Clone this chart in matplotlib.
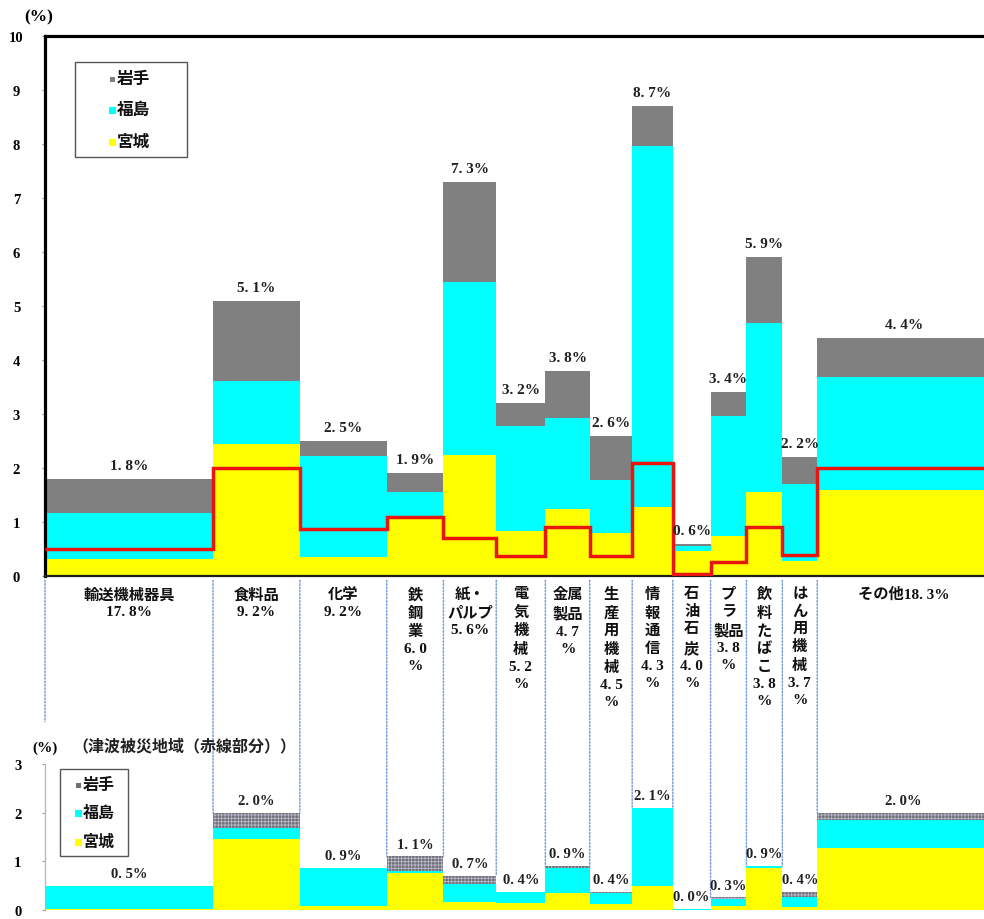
import numpy as np
import matplotlib
matplotlib.use("Agg")
import matplotlib.pyplot as plt
from matplotlib.patches import Rectangle, ConnectionPatch
from matplotlib.transforms import blended_transform_factory

plt.rcParams['font.family'] = ['Liberation Serif', 'Noto Sans CJK JP']
plt.rcParams['font.weight'] = 'bold'
plt.rcParams['hatch.linewidth'] = 0.6

# Industry share of shipments (%), used as column widths
shares = [17.8, 9.2, 9.2, 6.0, 5.6, 5.2, 4.7, 4.5, 4.3, 4.0, 3.8, 3.8, 3.7, 18.3]

# Column captions; "{}" receives the share value
cat_labels = [
    "輸送機械器具\n{}%",
    "食料品\n{}%",
    "化学\n{}%",
    "鉄\n鋼\n業\n{}\n%",
    "紙・\nパルプ\n{}%",
    "電\n気\n機\n械\n{}\n%",
    "金属\n製品\n{}\n%",
    "生\n産\n用\n機\n械\n{}\n%",
    "情\n報\n通\n信\n{}\n%",
    "石\n油\n石\n炭\n{}\n%",
    "プ\nラ\n製品\n{}\n%",
    "飲\n料\nた\nば\nこ\n{}\n%",
    "は\nん\n用\n機\n械\n{}\n%",
    "その他{}%",
]

# Share of each industry located in the three prefectures (%)
miyagi = [0.31, 2.44, 0.35, 1.07, 2.24, 0.84, 1.24, 0.80, 1.28, 0.47, 0.75, 1.56, 0.28, 1.60]
fukushima = [0.86, 1.18, 1.88, 0.48, 3.20, 1.93, 1.68, 0.98, 6.68, 0.09, 2.21, 3.13, 1.42, 2.08]
iwate = [0.63, 1.48, 0.27, 0.35, 1.86, 0.43, 0.88, 0.82, 0.74, 0.04, 0.44, 1.21, 0.50, 0.72]

# Portion located in the tsunami-affected area (%)
miyagi_t = [0.03, 1.45, 0.09, 0.76, 0.16, 0.15, 0.35, 0.12, 0.50, 0.00, 0.09, 0.86, 0.06, 1.28]
fukushima_t = [0.47, 0.24, 0.78, 0.04, 0.37, 0.22, 0.52, 0.22, 1.60, 0.03, 0.14, 0.04, 0.20, 0.56]
iwate_t = [0.00, 0.31, 0.00, 0.30, 0.17, 0.00, 0.03, 0.03, 0.00, 0.00, 0.03, 0.00, 0.12, 0.16]

series_names = ["岩手", "福島", "宮城"]

C_YELLOW = "#ffff00"
C_CYAN = "#00ffff"
C_GRAY = "#808080"
C_GRAY_T = "#6e6e74"
C_HATCH = "#b9b9cc"
C_RED = "#e8160f"
C_DOT = "#7d9fd8"

W, H = 984, 920
fig = plt.figure(figsize=(W / 100, H / 100), dpi=100)


def fx(px):
    return px / W


def fy(py):
    return 1 - py / H


def pct(v):
    return f"{v:.1f}".replace(".", ". ")


widths = np.array(shares)
edges = np.concatenate([[0], np.cumsum(widths)])
lefts = edges[:-1]
centers = lefts + widths / 2
xmax = edges[-1]

m = np.array(miyagi)
f = np.array(fukushima)
i_ = np.array(iwate)
total = m + f + i_

mt = np.array(miyagi_t)
ft = np.array(fukushima_t)
it = np.array(iwate_t)
total_t = mt + ft + it

# ---------------- upper chart ----------------
ax = fig.add_axes([fx(45), fy(577), (990 - 45) / W, (577 - 37) / H])
ax.bar(lefts, m, width=widths, align='edge', color=C_YELLOW, linewidth=0, zorder=2)
ax.bar(lefts, f, width=widths, bottom=m, align='edge', color=C_CYAN, linewidth=0, zorder=2)
ax.bar(lefts, i_, width=widths, bottom=m + f, align='edge', color=C_GRAY, linewidth=0, zorder=2)
ax.stairs(total_t, edges, baseline=None, color=C_RED, linewidth=2.5, zorder=4)

for x, v in zip(centers, total):
    ax.text(x, v + 0.13, pct(v) + "%", ha='center', va='bottom', fontsize=11,
            color='#202020', zorder=5)

ax.set_xlim(0, xmax)
ax.set_ylim(0, 10)
ax.set_xticks([])
ax.set_yticks(range(0, 11))
ax.tick_params(axis='y', length=2.5, width=0.8, color='#909090', pad=18, labelsize=10.5)
for lab in ax.get_yticklabels():
    lab.set_horizontalalignment('center')
for s in ['left', 'top']:
    ax.spines[s].set_linewidth(2.3)
    ax.spines[s].set_color('black')
ax.spines['bottom'].set_linewidth(1.6)
ax.spines['bottom'].set_color('#202020')
ax.spines['right'].set_visible(False)

fig.text(fx(39), fy(17), "(%)", ha='center', va='center', fontsize=12.5)

# column captions under the upper chart
trans = blended_transform_factory(ax.transData, fig.transFigure)
for x, tmpl, s in zip(centers, cat_labels, shares):
    ax.text(x, fy(588), tmpl.format(pct(s)), transform=trans, ha='center', va='top',
            fontsize=11, linespacing=1.4, color='#111111')

# legend for upper chart
fig.add_artist(Rectangle((fx(75), fy(158)), fx(187) - fx(75), fy(63) - fy(158),
                         transform=fig.transFigure, fill=False, edgecolor='#555555', lw=1.0))
colors_top = [C_GRAY, C_CYAN, C_YELLOW]
for k, (name, c) in enumerate(zip(series_names, colors_top)):
    yy = [80, 111, 143][k]
    sz = 5 if k == 0 else 7
    fig.add_artist(Rectangle((fx(112 - sz / 2), fy(yy + sz / 2)), sz / W, sz / H,
                             transform=fig.transFigure, facecolor=c, edgecolor='none'))
    fig.text(fx(117), fy(yy), name, ha='left', va='center', fontsize=12, color='#111111')

# ---------------- lower chart (tsunami-affected area) ----------------
bx = fig.add_axes([fx(45), fy(911), (990 - 45) / W, (911 - 765) / H])
bx.bar(lefts, mt, width=widths, align='edge', color=C_YELLOW, linewidth=0, zorder=2)
bx.bar(lefts, ft, width=widths, bottom=mt, align='edge', color=C_CYAN, linewidth=0, zorder=2)
bx.bar(lefts, it, width=widths, bottom=mt + ft, align='edge', facecolor=C_GRAY_T,
       edgecolor=C_HATCH, hatch='+++++', linewidth=0, zorder=2)

for x, v in zip(centers, total_t):
    bx.text(x, v + 0.12, pct(v) + "%", ha='center', va='bottom', fontsize=10.5,
            color='#202020', zorder=5)

bx.set_xlim(0, xmax)
bx.set_ylim(0, 3)
bx.set_xticks([])
bx.set_yticks([0, 1, 2, 3])
bx.tick_params(axis='y', length=2.5, width=0.8, color='#a0a0a0', pad=17, labelsize=10.5)
for lab in bx.get_yticklabels():
    lab.set_horizontalalignment('center')
for s in ['top', 'right', 'bottom']:
    bx.spines[s].set_visible(False)
bx.spines['left'].set_color('#b5b5b5')
bx.spines['left'].set_linewidth(0.9)
bx.patch.set_alpha(0)

fig.text(fx(45), fy(748), "(%)", ha='center', va='center', fontsize=11)
fig.text(fx(72), fy(747), "（津波被災地域（赤線部分））", ha='left', va='center',
         fontsize=11.5, color='#222222')

# legend for lower chart
fig.add_artist(Rectangle((fx(60), fy(857)), fx(128) - fx(60), fy(770) - fy(857),
                         transform=fig.transFigure, fill=False, edgecolor='#555555', lw=1.0))
for k, name in enumerate(series_names):
    yy = [786, 814, 843][k]
    sz = 5 if k == 0 else 7
    kw = dict(facecolor=[C_GRAY_T, C_CYAN, C_YELLOW][k], edgecolor='none')
    fig.add_artist(Rectangle((fx(78 - sz / 2), fy(yy + sz / 2)), sz / W, sz / H,
                             transform=fig.transFigure, **kw))
    fig.text(fx(83), fy(yy), name, ha='left', va='center', fontsize=11.5, color='#111111')

# dotted guides joining column borders of both charts
for j, x in enumerate(edges[:-1]):
    if j == 0:
        yb = 3.87
    else:
        yb = max(total_t[j - 1], total_t[j])
    cp = ConnectionPatch(xyA=(x, -0.08), coordsA=ax.transData, xyB=(x, yb),
                         coordsB=bx.transData, linestyle=(0, (1, 1.2)), color=C_DOT,
                         linewidth=1.1, zorder=0)
    fig.add_artist(cp)

fig.savefig("out.png", dpi=100)
